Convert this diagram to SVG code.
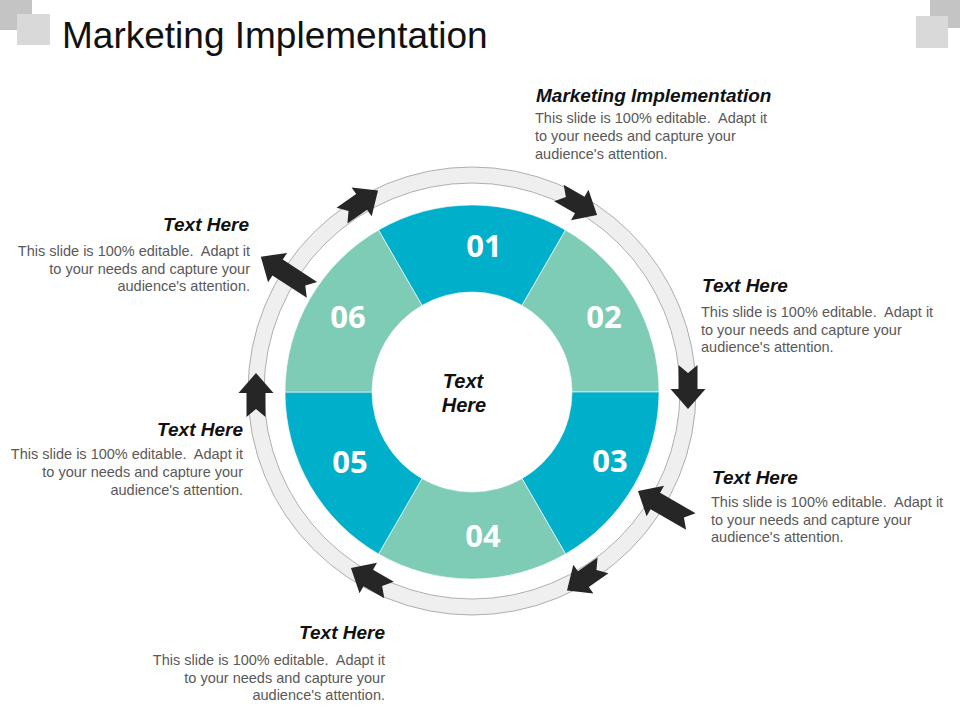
<svg xmlns="http://www.w3.org/2000/svg" width="960" height="720" viewBox="0 0 960 720">
<style>
.title{font-family:"Liberation Sans",Arial,sans-serif;font-size:37px;fill:#111}
.hd{font-family:"Liberation Sans",Arial,sans-serif;font-size:19px;font-weight:bold;font-style:italic;fill:#111}
.bd{font-family:"Liberation Sans",Arial,sans-serif;font-size:14.5px;fill:#595959;white-space:pre}
.num{font-family:"Open Sans","Noto Sans",sans-serif;font-size:31px;font-weight:bold;fill:#ffffff;text-anchor:middle}
.c{font-family:"Liberation Sans",Arial,sans-serif;font-size:20px;font-weight:bold;font-style:italic;fill:#111;text-anchor:middle}
.teal{fill:#00AFC9;stroke:#ffffff;stroke-width:0.6}
.mint{fill:#7ECCB5;stroke:#ffffff;stroke-width:0.6}
.arr{fill:#262626}
.r{text-anchor:end}
</style>
<defs>
<path id="a" d="M-22,-9.5 L2,-9.5 L2,-17.5 L22,0 L2,17.5 L2,9.5 L-22,9.5 L-14,0 Z"/>
<path id="al" d="M-31,-9.5 L10,-9.5 L10,-17.5 L30,0 L10,17.5 L10,9.5 L-31,9.5 L-23,0 Z"/>
</defs>
<rect width="960" height="720" fill="#ffffff"/>
<g id="decor">
<rect x="0" y="0" width="32" height="30" fill="#C4C4C4"/>
<rect x="17" y="14" width="33" height="31" fill="#D9D9D9"/>
<rect x="930" y="0" width="30" height="28" fill="#C4C4C4"/>
<rect x="916" y="16" width="32" height="32" fill="#D9D9D9"/>
</g>
<text class="title" x="62" y="48">Marketing Implementation</text>
<g id="ring">
<circle cx="472" cy="391" r="216" fill="none" stroke="#EFEFEF" stroke-width="16"/>
<circle cx="472" cy="391" r="224" fill="none" stroke="#A6A6A6" stroke-width="0.9"/>
<circle cx="472" cy="391" r="208" fill="none" stroke="#A6A6A6" stroke-width="0.9"/>
</g>
<g id="seg01"><path class="teal" d="M565.5,230.05 A187,187 0 0 0 378.5,230.05 L422,305.4 A100,100 0 0 1 522,305.4 Z"/><text class="num" x="484" y="257">01</text></g>
<g id="seg02"><path class="mint" d="M659,392 A187,187 0 0 0 565.5,230.05 L522,305.4 A100,100 0 0 1 572,392 Z"/><text class="num" x="604" y="328">02</text></g>
<g id="seg03"><path class="teal" d="M565.5,553.95 A187,187 0 0 0 659,392 L572,392 A100,100 0 0 1 522,478.6 Z"/><text class="num" x="610" y="472">03</text></g>
<g id="seg04"><path class="mint" d="M378.5,553.95 A187,187 0 0 0 565.5,553.95 L522,478.6 A100,100 0 0 1 422,478.6 Z"/><text class="num" x="483" y="547">04</text></g>
<g id="seg05"><path class="teal" d="M285,392 A187,187 0 0 0 378.5,553.95 L422,478.6 A100,100 0 0 1 372,392 Z"/><text class="num" x="350" y="473">05</text></g>
<g id="seg06"><path class="mint" d="M378.5,230.05 A187,187 0 0 0 285,392 L372,392 A100,100 0 0 1 422,305.4 Z"/><text class="num" x="348" y="328">06</text></g>
<g id="center"><text class="c" x="463" y="388">Text</text><text class="c" x="464" y="412">Here</text></g>
<g id="connectors" class="arr">
<use href="#a" transform="translate(360,203) rotate(-35)"/>
<use href="#a" transform="translate(578,204) rotate(30)"/>
<use href="#a" transform="translate(688,387) rotate(90)"/>
<use href="#al" transform="translate(664,506) rotate(210)"/>
<use href="#a" transform="translate(585,578) rotate(145)"/>
<use href="#a" transform="translate(370,579) rotate(210)"/>
<use href="#a" transform="translate(256,395) rotate(-90)"/>
<use href="#al" transform="translate(286,273) rotate(213)"/>
</g>
<g id="t1">
<text class="hd" x="536" y="102">Marketing Implementation</text>
<text class="bd" x="535" y="123">This slide is 100% editable.  Adapt it</text>
<text class="bd" x="535" y="141">to your needs and capture your</text>
<text class="bd" x="535" y="159">audience's attention.</text>
</g>
<g id="t2">
<text class="hd" x="702" y="292">Text Here</text>
<text class="bd" x="701" y="317">This slide is 100% editable.  Adapt it</text>
<text class="bd" x="701" y="335">to your needs and capture your</text>
<text class="bd" x="701" y="352">audience's attention.</text>
</g>
<g id="t3">
<text class="hd" x="712" y="484">Text Here</text>
<text class="bd" x="711" y="507">This slide is 100% editable.  Adapt it</text>
<text class="bd" x="711" y="525">to your needs and capture your</text>
<text class="bd" x="711" y="542">audience's attention.</text>
</g>
<g id="t4">
<text class="hd r" x="385" y="639">Text Here</text>
<text class="bd r" x="385" y="665">This slide is 100% editable.  Adapt it</text>
<text class="bd r" x="385" y="683">to your needs and capture your</text>
<text class="bd r" x="385" y="700">audience's attention.</text>
</g>
<g id="t5">
<text class="hd r" x="243" y="436">Text Here</text>
<text class="bd r" x="243" y="459">This slide is 100% editable.  Adapt it</text>
<text class="bd r" x="243" y="477">to your needs and capture your</text>
<text class="bd r" x="243" y="495">audience's attention.</text>
</g>
<g id="t6">
<text class="hd r" x="249" y="231">Text Here</text>
<text class="bd r" x="250" y="256">This slide is 100% editable.  Adapt it</text>
<text class="bd r" x="250" y="274">to your needs and capture your</text>
<text class="bd r" x="250" y="291">audience's attention.</text>
</g>
</svg>
